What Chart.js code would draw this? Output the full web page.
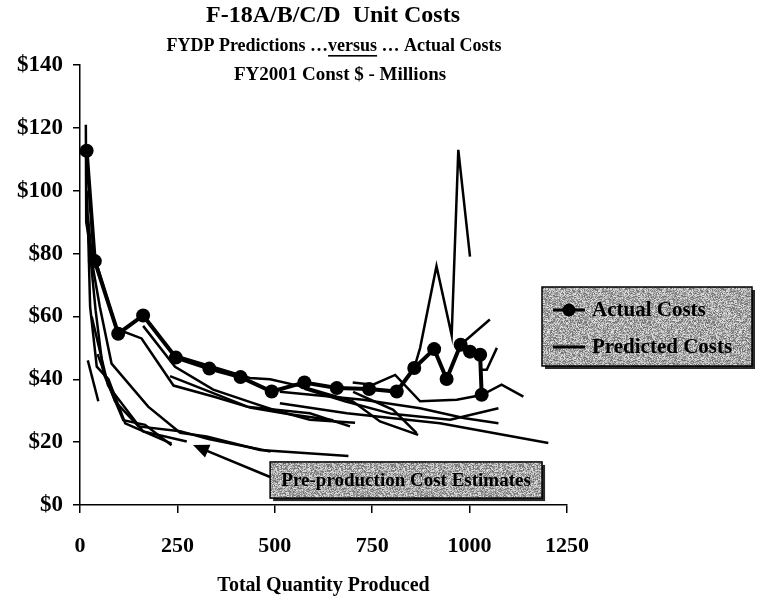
<!DOCTYPE html>
<html>
<head>
<meta charset="utf-8">
<script src="https://cdn.jsdelivr.net/npm/chart.js@4.4.0/dist/chart.umd.min.js"></script>
<style>
  html, body { margin: 0; padding: 0; background: #fff; }
</style>
</head>
<body>
<canvas id="chart" width="757" height="607"></canvas>
<script>
// Actual unit costs by cumulative quantity (FY2001 const $M)
const actualQty  = [17, 38, 98, 162, 246, 332, 412, 492, 576, 659, 742, 813, 858, 909, 941, 977, 1001, 1027, 1031];
const actualCost = [112.7, 77.6, 54.5, 60.3, 46.9, 43.4, 40.7, 36.1, 39.0, 37.2, 36.9, 36.1, 43.6, 49.6, 40.1, 51.0, 48.8, 47.8, 35.1];

// FYDP predictions, each one [qty, cost] pairs
const pred01 = [[20, 46], [47, 33]];
const pred02 = [[15, 121], [16, 90], [30, 79], [47, 75], [94, 56], [158, 53], [240, 38], [342, 34.5], [428, 31.3], [590, 29.2], [693, 25]];
const pred03 = [[18, 100], [26, 63], [43, 44], [73, 40], [116, 26], [235, 19.5]];
const pred04 = [[20, 92], [34, 75], [51, 63], [81, 45], [175, 31.3], [257, 23], [325, 21.8], [462, 17.5], [689, 15.6]];
const pred05 = [[22, 85], [40, 62], [60, 42], [111, 27], [167, 25.5], [235, 19]];
const pred06 = [[30, 60], [72, 38], [162, 23.4], [274, 20.2]];
const pred07 = [[45, 48], [90, 33], [150, 25], [257, 23.5], [330, 21], [489, 17]];
const pred08 = [[162, 57], [244, 44], [342, 36.7], [445, 32.4], [496, 30.3], [590, 27.1], [706, 26.2]];
const pred09 = [[246, 47.5], [436, 40.4], [488, 40], [576, 37.5], [700, 33], [770, 26.6], [868, 22.3]];
const pred10 = [[231, 41], [342, 35.6], [436, 31], [530, 29], [650, 27]];
const pred11 = [[700, 39], [752, 38.3], [809, 41.4], [873, 33], [967, 33.5], [1031, 35], [1082, 38.3], [1138, 34.5]];
const pred12 = [[576, 37], [680, 33], [800, 29], [950, 27.1], [1074, 30.8]];
const pred13 = [[513, 32.4], [685, 29.2], [924, 26], [1202, 19.7]];
const pred14 = [[513, 36], [727, 33.5], [873, 30.8], [988, 27.6], [1074, 26]];
const pred15 = [[701, 36], [804, 30.3], [864, 22.9]];
const pred16 = [[858, 43.6], [873, 50], [915, 76], [954, 54], [971, 113], [1001, 79]];
const pred17 = [[977, 51], [1052, 59]];
const pred18 = [[1027, 43], [1044, 43], [1070, 50]];
const predicted = [pred01, pred02, pred03, pred04, pred05, pred06, pred07, pred08, pred09,
                   pred10, pred11, pred12, pred13, pred14, pred15, pred16, pred17, pred18];

const xTicks = [0, 250, 500, 750, 1000, 1250];
const yTicks = [0, 20, 40, 60, 80, 100, 120, 140];

const serif = '"Liberation Serif", "Times New Roman", serif';

// grey speckled fill like the scanned boxes
function speckle(ctx) {
    const c = document.createElement('canvas');
    c.width = 64; c.height = 64;
    const g = c.getContext('2d');
    const img = g.createImageData(64, 64);
    for (let j = 0; j < 64; j++) {
        for (let i = 0; i < 64; i++) {
            let h = Math.imul(i, 374761393) + Math.imul(j, 668265263);
            h = Math.imul(h ^ (h >>> 13), 1274126177);
            h = (h ^ (h >>> 16)) >>> 0;
            const v = 105 + (h % 125);
            const k = (j * 64 + i) * 4;
            img.data[k] = img.data[k + 1] = img.data[k + 2] = v;
            img.data[k + 3] = 255;
        }
    }
    g.putImageData(img, 0, 0);
    return ctx.createPattern(c, 'repeat');
}

function greyBox(ctx, x, y, w, h) {
    ctx.fillStyle = '#2a2a2a';
    ctx.fillRect(x + 3, y + 3, w, h);
    ctx.fillStyle = speckle(ctx);
    ctx.fillRect(x, y, w, h);
    ctx.strokeStyle = '#000';
    ctx.lineWidth = 1.5;
    ctx.strokeRect(x, y, w, h);
    ctx.fillStyle = '#000';
}

const decor = {
    id: 'decor',
    afterDraw(chart) {
        const ctx = chart.ctx;
        const xs = chart.scales.x, ys = chart.scales.y;
        ctx.save();
        ctx.fillStyle = '#000';
        ctx.strokeStyle = '#000';
        ctx.textBaseline = 'middle';
        ctx.textAlign = 'center';

        // titles
        ctx.font = 'bold 24px ' + serif;
        ctx.fillText('F-18A/B/C/D  Unit Costs', 333, 16);

        ctx.font = 'bold 18px ' + serif;
        const parts = ['FYDP Predictions \u2026', 'versus', ' \u2026 Actual Costs'];
        const widths = parts.map(p => ctx.measureText(p).width);
        let x0 = 334 - (widths[0] + widths[1] + widths[2]) / 2;
        ctx.textAlign = 'left';
        parts.forEach((p, i) => {
            ctx.fillText(p, x0, 46);
            if (i === 1) ctx.fillRect(x0, 55, widths[i], 1.6);
            x0 += widths[i];
        });
        ctx.textAlign = 'center';
        ctx.font = 'bold 19px ' + serif;
        ctx.fillText('FY2001 Const $ - Millions', 340, 75);

        // legend
        greyBox(ctx, 542, 287, 210, 79);
        ctx.lineWidth = 3;
        ctx.beginPath();
        ctx.moveTo(553, 310); ctx.lineTo(585, 310);
        ctx.moveTo(553, 347); ctx.lineTo(585, 347);
        ctx.stroke();
        ctx.beginPath();
        ctx.arc(569, 310, 6.5, 0, Math.PI * 2);
        ctx.fill();
        ctx.font = 'bold 21px ' + serif;
        ctx.textAlign = 'left';
        ctx.fillText('Actual Costs', 592, 311);
        ctx.fillText('Predicted Costs', 592, 348);

        // pre-production note with arrow, placed in data units
        const bx = xs.getPixelForValue(488), by = ys.getPixelForValue(13.7);
        const bw = xs.getPixelForValue(1186) - bx, bh = ys.getPixelForValue(2.2) - by;
        const tx = xs.getPixelForValue(488), ty = ys.getPixelForValue(8.9);
        const hx = xs.getPixelForValue(290), hy = ys.getPixelForValue(19.1);
        const dx = hx - tx, dy = hy - ty, len = Math.hypot(dx, dy);
        const ux = dx / len, uy = dy / len;
        ctx.lineWidth = 2.5;
        ctx.beginPath();
        ctx.moveTo(tx, ty);
        ctx.lineTo(hx - ux * 10, hy - uy * 10);
        ctx.stroke();
        ctx.beginPath();
        ctx.moveTo(hx, hy);
        ctx.lineTo(hx - ux * 16 - uy * 7, hy - uy * 16 + ux * 7);
        ctx.lineTo(hx - ux * 16 + uy * 7, hy - uy * 16 - ux * 7);
        ctx.closePath();
        ctx.fill();

        greyBox(ctx, bx, by, bw, bh);
        ctx.font = 'bold 19px ' + serif;
        ctx.textAlign = 'center';
        ctx.fillText('Pre-production Cost Estimates', bx + bw / 2, by + bh / 2 + 1);
        ctx.restore();
    }
};

const datasets = predicted.map(line => ({
    label: 'Predicted Costs',
    data: line.map(p => ({ x: p[0], y: p[1] })),
    borderColor: '#000',
    borderWidth: 2.5,
    pointRadius: 0,
    tension: 0,
    order: 2
}));
datasets.push({
    label: 'Actual Costs',
    data: actualQty.map((q, i) => ({ x: q, y: actualCost[i] })),
    borderColor: '#000',
    backgroundColor: '#000',
    borderWidth: 4,
    pointRadius: 7,
    pointBackgroundColor: '#000',
    pointBorderWidth: 0,
    tension: 0,
    order: 1
});

new Chart(document.getElementById('chart'), {
    type: 'line',
    data: { datasets: datasets },
    options: {
        responsive: false,
        animation: false,
        devicePixelRatio: 1,
        layout: { padding: { top: 65, right: 190, left: 0, bottom: 0 } },
        plugins: { legend: { display: false }, tooltip: { enabled: false } },
        scales: {
            x: {
                type: 'linear',
                min: 0, max: 1250,
                afterFit: s => { s.height = 102; },
                afterBuildTicks: s => { s.ticks = xTicks.map(v => ({ value: v })); },
                grid: { drawOnChartArea: false, color: '#000', lineWidth: 1.5, tickLength: 8 },
                border: { color: '#000', width: 1.5 },
                ticks: { color: '#000', font: { family: serif, size: 22, weight: 'bold' }, padding: 20, maxRotation: 0,
                         callback: v => String(v) },
                title: {
                    display: true, text: 'Total Quantity Produced', color: '#000',
                    font: { family: serif, size: 20, weight: 'bold' }, padding: { top: 0, bottom: 9 }
                }
            },
            y: {
                min: 0, max: 140,
                afterFit: s => { s.width = 80; },
                afterBuildTicks: s => { s.ticks = yTicks.map(v => ({ value: v })); },
                grid: { drawOnChartArea: false, color: '#000', lineWidth: 1.5, tickLength: 7 },
                border: { color: '#000', width: 1.5 },
                ticks: { color: '#000', font: { family: serif, size: 23, weight: 'bold' }, padding: 10,
                         callback: v => '$' + v }
            }
        }
    },
    plugins: [decor]
});
</script>
</body>
</html>
